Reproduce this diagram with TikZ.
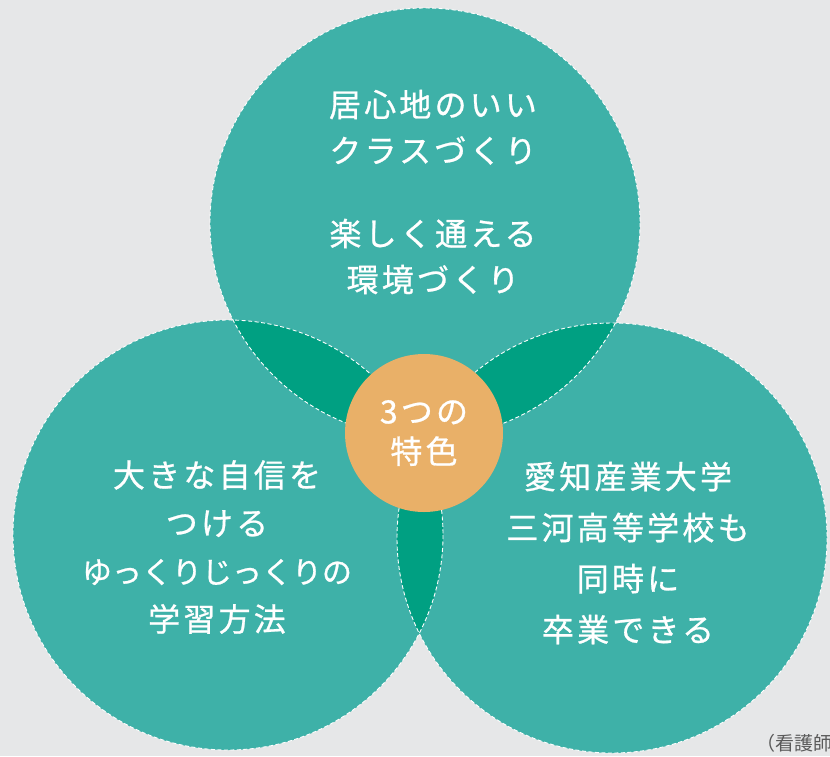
\documentclass[tikz,border=0pt]{standalone}
\usepackage{fontspec}
\usepackage{xcolor}
\usetikzlibrary{calc}
\newfontfamily\jpfont[LetterSpace=10, FakeBold=0.8]{Noto Sans CJK JP}
\newfontfamily\jpplain[FakeBold=0.8]{Noto Sans CJK JP}
\newfontfamily\jpnote{Noto Sans CJK JP}
\definecolor{bggray}{HTML}{E6E7E8}
\definecolor{circteal}{HTML}{3EB1A8}
\definecolor{lensgreen}{HTML}{00A082}
\definecolor{coreorange}{HTML}{E9B068}
\definecolor{notegray}{HTML}{5A5A5A}
\tikzset{
 circtext/.style={text=white, align=center, inner sep=0, font=\jpfont\fontsize{32}{47}\selectfont},
 rim/.style={white, line width=.9pt, dash pattern=on 4pt off 2.5pt}
}
\begin{document}
\begin{tikzpicture}[x=1pt, y=-1pt]
\clip (0,0) rectangle (830,756);
\fill[bggray] (0,0) rectangle (830,756);
\coordinate (ctop) at (425,223);
\coordinate (cleft) at (228,535);
\coordinate (cright) at (612,538);
\foreach \c in {ctop,cleft,cright} {
 \fill[circteal] (\c) circle (215);
}
\begin{scope}
 \clip (ctop) circle (215);
 \fill[lensgreen] (cleft) circle (215);
 \fill[lensgreen] (cright) circle (215);
\end{scope}
\begin{scope}
 \clip (cleft) circle (215);
 \fill[lensgreen] (cright) circle (215);
\end{scope}
\foreach \c in {ctop,cleft,cright} {
 \draw[rim] (\c) circle (215);
}
\node[circle, fill=coreorange, minimum size=158, inner sep=0, circtext, font=\jpfont\fontsize{32}{40}\selectfont] (core) at (424,433) {3つの\\特色};
\node[circtext, font=\jpfont\fontsize{32}{46}\selectfont] (toptext) at (433,192) {居心地のいい\\クラスづくり\\[37pt]楽しく通える\\環境づくり};
\node[circtext, font=\jpfont\fontsize{32}{48}\selectfont] (lefttext) at (217,547) {大きな自信を\\つける\\{\jpplain\fontsize{30}{48}\selectfont ゆっくりじっくりの}\\学習方法};
\node[circtext, font=\jpfont\fontsize{32}{51}\selectfont] (righttext) at (628,553) {愛知産業大学\\三河高等学校も\\同時に\\卒業できる};
\node[anchor=west, inner sep=0, text=notegray, font=\jpnote\fontsize{19}{19}\selectfont] (note) at (756,743) {（看護師};
\end{tikzpicture}
\end{document}
